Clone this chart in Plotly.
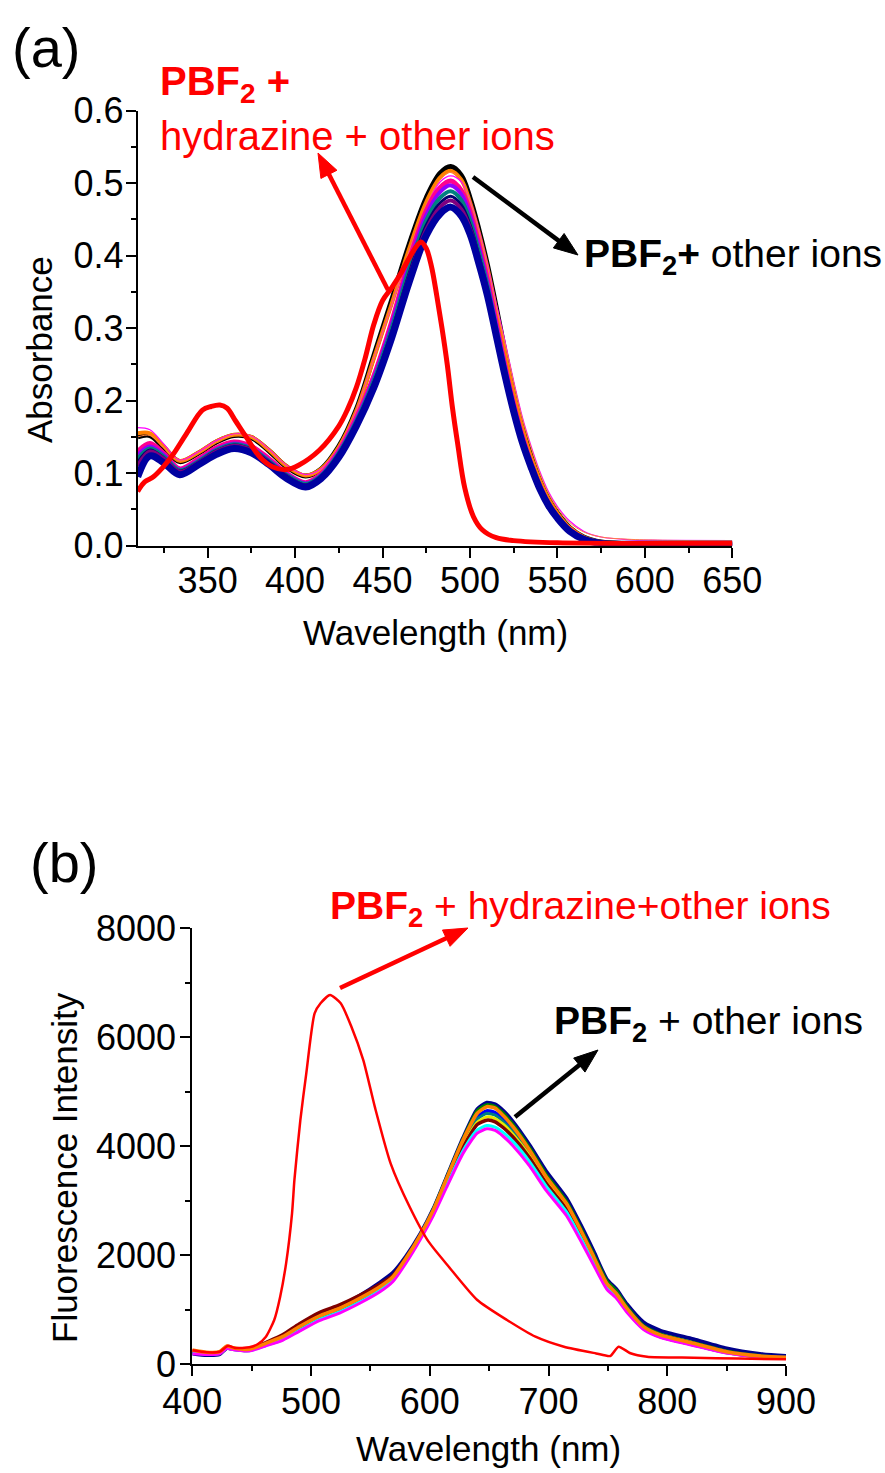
import math
import plotly.graph_objects as go

# ---------------- Panel (a): absorbance ----------------
wl_a = [310, 317, 325, 334, 345, 355, 365, 375, 385, 395, 406, 415, 425, 435, 445, 455, 465, 475, 483, 489,
        495, 500, 505, 510, 515, 520, 525, 530, 535, 540, 545, 550, 557, 565, 575, 590, 610, 650]

abs_black = [0.150, 0.152, 0.135, 0.116, 0.128, 0.143, 0.152, 0.149, 0.131, 0.109, 0.096, 0.106, 0.137, 0.188, 0.262, 0.337, 0.414, 0.480, 0.514, 0.523,
             0.511, 0.480, 0.437, 0.387, 0.329, 0.268, 0.212, 0.163, 0.123, 0.090, 0.064, 0.045, 0.025, 0.012, 0.005, 0.003, 0.003, 0.003]
abs_orange = [0.155, 0.155, 0.137, 0.117, 0.129, 0.144, 0.153, 0.150, 0.132, 0.110, 0.097, 0.106, 0.136, 0.186, 0.258, 0.332, 0.408, 0.474, 0.508, 0.517,
              0.505, 0.474, 0.432, 0.383, 0.325, 0.265, 0.210, 0.162, 0.122, 0.090, 0.064, 0.045, 0.025, 0.012, 0.005, 0.003, 0.003, 0.003]
abs_magenta_thin = [0.163, 0.160, 0.140, 0.118, 0.130, 0.145, 0.154, 0.151, 0.133, 0.111, 0.098, 0.106, 0.136, 0.186, 0.258, 0.330, 0.404, 0.468, 0.502, 0.510,
                    0.502, 0.476, 0.437, 0.388, 0.334, 0.282, 0.227, 0.177, 0.137, 0.102, 0.074, 0.054, 0.034, 0.020, 0.012, 0.0085, 0.0075, 0.007]
abs_orange_thin = [0.150, 0.152, 0.135, 0.117, 0.128, 0.143, 0.153, 0.150, 0.132, 0.110, 0.097, 0.105, 0.135, 0.185, 0.258, 0.330, 0.405, 0.470, 0.505, 0.515,
                   0.505, 0.475, 0.435, 0.385, 0.330, 0.280, 0.225, 0.175, 0.135, 0.100, 0.072, 0.052, 0.032, 0.019, 0.012, 0.009, 0.0075, 0.007]
abs_pink = [0.130, 0.141, 0.127, 0.106, 0.120, 0.135, 0.143, 0.137, 0.120, 0.100, 0.087, 0.099, 0.130, 0.176, 0.234, 0.307, 0.391, 0.462, 0.494, 0.503,
            0.490, 0.461, 0.416, 0.366, 0.307, 0.248, 0.195, 0.150, 0.113, 0.082, 0.058, 0.040, 0.022, 0.010, 0.003, 0.002, 0.002, 0.002]
abs_violet = [0.125, 0.137, 0.125, 0.105, 0.118, 0.133, 0.141, 0.135, 0.118, 0.099, 0.086, 0.098, 0.129, 0.174, 0.231, 0.303, 0.386, 0.456, 0.488, 0.497,
              0.485, 0.456, 0.412, 0.362, 0.304, 0.246, 0.193, 0.148, 0.112, 0.082, 0.057, 0.040, 0.021, 0.010, 0.003, 0.002, 0.002, 0.002]
abs_teal = [0.120, 0.134, 0.123, 0.104, 0.117, 0.132, 0.140, 0.134, 0.117, 0.098, 0.085, 0.097, 0.128, 0.172, 0.228, 0.298, 0.380, 0.449, 0.480, 0.489,
            0.477, 0.449, 0.406, 0.358, 0.300, 0.243, 0.191, 0.147, 0.111, 0.081, 0.057, 0.039, 0.021, 0.009, 0.003, 0.002, 0.002, 0.002]
abs_navy2 = [0.115, 0.132, 0.121, 0.103, 0.116, 0.131, 0.139, 0.133, 0.116, 0.097, 0.084, 0.096, 0.127, 0.170, 0.225, 0.294, 0.374, 0.442, 0.473, 0.482,
             0.470, 0.443, 0.401, 0.354, 0.297, 0.240, 0.189, 0.145, 0.110, 0.080, 0.056, 0.039, 0.021, 0.009, 0.003, 0.002, 0.002, 0.002]
abs_purple = [0.110, 0.130, 0.120, 0.102, 0.115, 0.130, 0.138, 0.132, 0.115, 0.096, 0.083, 0.095, 0.125, 0.168, 0.222, 0.290, 0.369, 0.436, 0.467, 0.476,
              0.464, 0.438, 0.397, 0.350, 0.294, 0.238, 0.187, 0.144, 0.109, 0.079, 0.056, 0.038, 0.020, 0.009, 0.003, 0.002, 0.002, 0.002]
abs_navy = [0.095, 0.124, 0.114, 0.098, 0.112, 0.126, 0.134, 0.128, 0.112, 0.093, 0.081, 0.093, 0.122, 0.165, 0.218, 0.285, 0.362, 0.428, 0.458, 0.467,
            0.455, 0.430, 0.390, 0.345, 0.290, 0.235, 0.185, 0.142, 0.108, 0.078, 0.055, 0.038, 0.020, 0.009, 0.003, 0.002, 0.002, 0.002]

wl_red_a = [310, 314, 319, 324, 330, 338, 347, 352, 357, 361, 366, 372, 380, 387, 395, 402, 414, 425, 430, 435, 440, 445,
            450, 455, 461, 466, 470, 472, 475, 478, 481, 484, 487, 490, 493, 497, 502, 507, 515, 525, 550, 600, 650]
abs_red = [0.075, 0.088, 0.095, 0.107, 0.125, 0.155, 0.187, 0.192, 0.194, 0.190, 0.172, 0.150, 0.122, 0.109, 0.105, 0.111, 0.132, 0.165, 0.188, 0.218, 0.258, 0.305,
           0.338, 0.355, 0.378, 0.400, 0.415, 0.419, 0.410, 0.385, 0.345, 0.300, 0.250, 0.190, 0.140, 0.080, 0.040, 0.022, 0.011, 0.007, 0.004, 0.003, 0.003]

# ---------------- Panel (b): fluorescence ----------------
wl_b = [400, 412, 423, 429, 434, 448, 462, 476, 490, 507, 524, 541, 558, 569, 580, 592, 603, 614, 628, 640,
        648, 655, 662, 670, 684, 698, 715, 727, 738, 749, 757, 766, 780, 794, 822, 850, 878, 900]

fl_navy = [200, 170, 185, 300, 280, 260, 380, 500, 700, 900, 1060, 1260, 1500, 1680, 1980, 2390, 2850, 3420, 4150, 4680,
           4800, 4770, 4650, 4450, 4020, 3540, 3050, 2560, 2070, 1560, 1380, 1100, 770, 620, 460, 290, 190, 150]
fl_green = [240, 205, 215, 320, 295, 265, 375, 495, 680, 875, 1015, 1200, 1415, 1600, 1940, 2370, 2840, 3410, 4130, 4650,
            4760, 4730, 4600, 4400, 3970, 3480, 2990, 2500, 2010, 1530, 1350, 1060, 710, 555, 395, 240, 155, 125]
fl_blue = [230, 200, 210, 315, 290, 265, 370, 490, 675, 870, 1010, 1195, 1410, 1590, 1930, 2360, 2820, 3380, 4080, 4540,
           4650, 4620, 4500, 4310, 3900, 3420, 2930, 2440, 1960, 1480, 1300, 1020, 685, 530, 380, 228, 150, 125]
fl_teal = [220, 195, 205, 310, 285, 260, 365, 485, 670, 865, 1005, 1190, 1400, 1585, 1925, 2350, 2810, 3360, 4050, 4500,
           4600, 4570, 4450, 4270, 3870, 3390, 2910, 2420, 1940, 1465, 1290, 1010, 680, 525, 375, 225, 148, 122]
fl_yellow = [250, 210, 220, 325, 300, 270, 372, 492, 690, 885, 1030, 1210, 1420, 1595, 1925, 2345, 2800, 3340, 4010, 4440,
             4540, 4510, 4400, 4220, 3830, 3360, 2880, 2400, 1920, 1450, 1280, 1000, 670, 520, 370, 222, 146, 120]
fl_darkred = [215, 190, 200, 305, 285, 270, 400, 540, 740, 950, 1090, 1265, 1470, 1630, 1950, 2360, 2800, 3330, 3980, 4400,
              4480, 4450, 4340, 4170, 3790, 3320, 2850, 2370, 1900, 1430, 1260, 990, 660, 510, 360, 215, 140, 115]
fl_cyan = [205, 185, 195, 300, 275, 250, 345, 450, 620, 820, 960, 1140, 1360, 1550, 1890, 2320, 2760, 3280, 3920, 4300,
           4380, 4350, 4250, 4090, 3720, 3270, 2800, 2330, 1870, 1410, 1240, 975, 650, 505, 355, 212, 138, 112]
fl_magenta = [195, 180, 190, 295, 270, 245, 340, 440, 605, 800, 940, 1120, 1330, 1520, 1860, 2290, 2730, 3240, 3870, 4240,
              4320, 4290, 4180, 4010, 3640, 3190, 2730, 2270, 1820, 1380, 1215, 955, 640, 495, 345, 205, 132, 108]
fl_orange = [262, 220, 231, 336, 305, 275, 385, 507, 690, 886, 1027, 1211, 1424, 1607, 1945, 2372, 2831, 3400, 4116, 4606,
             4727, 4700, 4560, 4360, 3932, 3442, 2954, 2464, 1975, 1486, 1303, 1028, 690, 538, 385, 231, 152, 128]

wl_red_b = [400, 412, 423, 430, 436, 448, 455, 462, 469, 474, 479, 484, 486, 491, 496, 503, 508, 516, 525, 534,
            544, 554, 567, 583, 599, 616, 640, 665, 689, 713, 740, 752, 759, 769, 783, 822, 860, 900]
fl_red = [257, 220, 231, 342, 300, 312, 367, 507, 813, 1241, 1853, 2771, 3382, 4482, 5339, 6440, 6624, 6776, 6624, 6194,
          5583, 4700, 3688, 2892, 2250, 1791, 1180, 813, 507, 323, 200, 152, 323, 202, 140, 122, 105, 92]

FONT = "Liberation Sans, Arial, sans-serif"
W, H = 885, 1473


def px(x):
    return x / W


def py(y):
    return 1 - y / H


fig = go.Figure()

top_series = [
    (abs_black, "#000000", 5),
    (abs_orange, "#ff8000", 4),
    (abs_magenta_thin, "#ff00ff", 1.2),
    (abs_orange_thin, "#ff8040", 1.0),
    (abs_pink, "#ff0090", 5),
    (abs_violet, "#9000ff", 4),
    (abs_teal, "#008080", 4),
    (abs_navy2, "#000070", 3),
    (abs_purple, "#800080", 4),
    (abs_navy, "#0000a0", 7),
]
for vals, col, w in top_series:
    fig.add_trace(go.Scatter(x=wl_a, y=vals, mode="lines", line=dict(color=col, width=w, shape="spline", smoothing=1.0),
                             xaxis="x", yaxis="y", showlegend=False, hoverinfo="skip"))
fig.add_trace(go.Scatter(x=wl_red_a, y=abs_red, mode="lines", line=dict(color="#ff0000", width=5, shape="spline", smoothing=1.0),
                         xaxis="x", yaxis="y", showlegend=False, hoverinfo="skip"))

bottom_series = [
    (fl_navy, "#00008b", 4),
    (fl_green, "#008000", 3.5),
    (fl_blue, "#0000ff", 3.5),
    (fl_teal, "#008080", 3),
    (fl_yellow, "#e8e800", 3),
    (fl_darkred, "#800000", 3.5),
    (fl_cyan, "#00ffff", 3),
    (fl_magenta, "#ff00ff", 3),
    (fl_orange, "#ff8000", 3.5),
]
for vals, col, w in bottom_series:
    fig.add_trace(go.Scatter(x=wl_b, y=vals, mode="lines", line=dict(color=col, width=w, shape="spline", smoothing=0.6),
                             xaxis="x2", yaxis="y2", showlegend=False, hoverinfo="skip"))
fig.add_trace(go.Scatter(x=wl_red_b, y=fl_red, mode="lines", line=dict(color="#ff0000", width=2.5, shape="spline", smoothing=0.6),
                         xaxis="x2", yaxis="y2", showlegend=False, hoverinfo="skip"))

axis_common = dict(showline=True, linecolor="black", linewidth=2, ticks="outside", ticklen=10, tickwidth=2,
                   tickcolor="black", showgrid=False, zeroline=False, mirror=False, automargin=False,
                   tickfont=dict(family=FONT, size=36, color="black"))
minor_common = dict(ticks="outside", ticklen=5, tickwidth=2, tickcolor="black")

fig.update_layout(
    width=W, height=H, margin=dict(l=0, r=0, t=0, b=0, pad=0),
    paper_bgcolor="white", plot_bgcolor="white",
    font=dict(family=FONT, color="black"),
    showlegend=False,
    xaxis=dict(domain=[px(137.7), px(732.3)], range=[310, 650], anchor="y", tick0=350, dtick=50, ticklabelstandoff=-8,
               minor=dict(dtick=25, tick0=350, **minor_common), **axis_common),
    yaxis=dict(domain=[py(545.7), py(110.7)], range=[0, 0.6], anchor="x", dtick=0.1, tickformat=".1f", ticklabelstandoff=-5,
               minor=dict(dtick=0.05, **minor_common), **axis_common),
    xaxis2=dict(domain=[px(192.3), px(786)], range=[400, 900], anchor="y2", dtick=100, ticklabelstandoff=-6,
                minor=dict(dtick=50, **minor_common), **axis_common),
    yaxis2=dict(domain=[py(1364.3), py(928.3)], range=[0, 8000], anchor="x2", dtick=2000, tickformat="d", ticklabelstandoff=-3,
                minor=dict(dtick=1000, **minor_common), **axis_common),
)

ann = []
shapes = []


def text(x, y, s, size, color="black", xanchor="left", angle=0):
    ann.append(dict(x=px(x), y=py(y), xref="paper", yref="paper", text=s, showarrow=False, xanchor=xanchor,
                    yanchor="middle", textangle=angle, font=dict(family=FONT, size=size, color=color)))


def arrow(tx, ty, hx, hy, color, width=4.5, head_len=24, head_half=9):
    dx, dy = hx - tx, hy - ty
    d = math.hypot(dx, dy)
    ux, uy = dx / d, dy / d
    nx, ny = -uy, ux
    bx, by = hx - head_len * ux, hy - head_len * uy
    shapes.append(dict(type="line", xref="paper", yref="paper", x0=px(tx), y0=py(ty),
                       x1=px(bx + 4 * ux), y1=py(by + 4 * uy), line=dict(color=color, width=width)))
    path = "M {:.5f} {:.5f} L {:.5f} {:.5f} L {:.5f} {:.5f} Z".format(
        px(hx), py(hy), px(bx + head_half * nx), py(by + head_half * ny), px(bx - head_half * nx), py(by - head_half * ny))
    shapes.append(dict(type="path", xref="paper", yref="paper", path=path, fillcolor=color, line=dict(color=color, width=1)))


# panel labels
text(10, 48, "(a)", 56)
text(28, 862, "(b)", 56)
# axis titles
text(435, 632, "Wavelength (nm)", 35, xanchor="center")
text(40, 350, "Absorbance", 35, xanchor="center", angle=-90)
text(489, 1448, "Wavelength (nm)", 35, xanchor="center")
text(64, 1168, "Fluorescence Intensity", 35, xanchor="center", angle=-90)
# panel (a) annotations
text(158, 84, "<b>PBF<sub>2</sub> +</b>", 40, color="#ff0000")
text(158, 136, "hydrazine + other ions", 40, color="#ff0000")
text(582, 256, "<b>PBF<sub>2</sub>+</b> other ions", 39)
arrow(388, 290, 318, 153, "#ff0000")
arrow(473, 177, 578, 255, "black")
# panel (b) annotations
text(328, 908, "<b>PBF<sub>2</sub></b> + hydrazine+other ions", 39, color="#ff0000")
text(552, 1023, "<b>PBF<sub>2</sub></b> + other ions", 39)
arrow(340, 988, 468, 928, "#ff0000")
arrow(515, 1117, 598, 1050, "black")

fig.update_layout(annotations=ann, shapes=shapes)
fig.write_html("out.html")
